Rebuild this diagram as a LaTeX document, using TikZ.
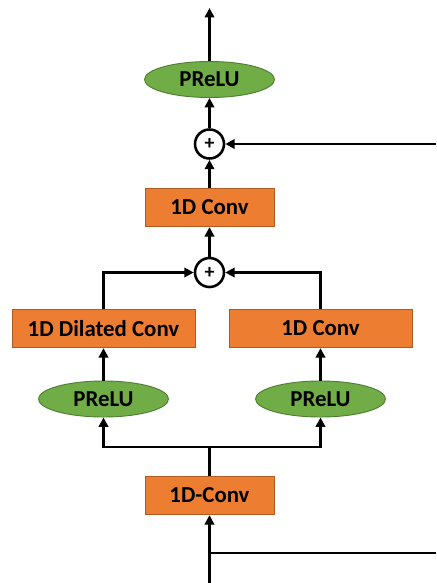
\documentclass[tikz,border=0pt]{standalone}
\usepackage{fontspec}
\setmainfont{Carlito}
\usetikzlibrary{arrows.meta,shapes.geometric}
\definecolor{convorange}{RGB}{237,125,49}
\definecolor{convedge}{RGB}{174,90,33}
\definecolor{actgreen}{RGB}{112,173,71}
\definecolor{actedge}{RGB}{80,126,50}
\tikzset{
  conv/.style={draw=convedge, fill=convorange, line width=0.8pt, inner sep=0pt,
    minimum width=3.87cm, minimum height=1.15cm, font=\fontsize{19.5}{22}\selectfont\bfseries},
  wideconv/.style={conv, minimum width=5.49cm},
  prelu/.style={ellipse, draw=actedge, fill=actgreen, line width=0.8pt, inner sep=0pt,
    minimum width=3.9cm, minimum height=1.08cm, font=\fontsize{19.5}{22}\selectfont\bfseries},
  sum/.style={circle, draw, fill=white, line width=2.2pt, inner sep=0pt,
    minimum size=0.87cm, font=\fontsize{17}{17}\selectfont\bfseries},
  wire/.style={line width=2.5pt},
  flow/.style={wire, -{Triangle[length=8pt,width=8pt]}}
}
\begin{document}
\begin{tikzpicture}[x=0.03cm, y=-0.03cm]
  \newcommand\midx{209.5}
  \newcommand\leftx{103.5}
  \newcommand\rightx{320.5}
  \useasboundingbox (0,0) rectangle (436,583);

  % blocks, top to bottom
  \node[prelu] (act3) at (\midx,79.5) {PReLU};
  \node[sum] (add2) at (\midx,144) {+};
  \node[conv] (conv3) at (\midx,207.5) {1D Conv};
  \node[sum] (add1) at (\midx,272.5) {+};
  \node[wideconv] (dconv) at (\leftx,328.5) {1D Dilated Conv};
  \node[wideconv] (conv2) at (\rightx,328.5) {1D Conv};
  \node[prelu] (act1) at (\leftx,399) {PReLU};
  \node[prelu] (act2) at (\rightx,399) {PReLU};
  \node[conv] (conv1) at (\midx,495.5) {1D-Conv};

  % free ends
  \coordinate (out) at (\midx,8);
  \coordinate (in) at (\midx,583);
  \coordinate (split) at (\midx,447);
  \coordinate (tap) at (\midx,553);
  \coordinate (skipin) at (436,144);
  \coordinate (skipout) at (436,553);

  % connectors
  \draw[flow] (act3) -- (out);
  \draw[flow] (add2) -- (act3);
  \draw[flow] (skipin) -- (add2);
  \draw[flow] (conv3) -- (add2);
  \draw[flow] (add1) -- (conv3);
  \draw[flow] (dconv.north) |- (add1);
  \draw[flow] (conv2.north) |- (add1);
  \draw[flow] (act1) -- (dconv);
  \draw[flow] (act2) -- (conv2);
  \draw[wire] (conv1) -- (split);
  \draw[flow] (split) -| (act1);
  \draw[flow] (split) -| (act2);
  \draw[flow] (in) -- (conv1);
  \draw[wire] (tap) -- (skipout);
\end{tikzpicture}
\end{document}
